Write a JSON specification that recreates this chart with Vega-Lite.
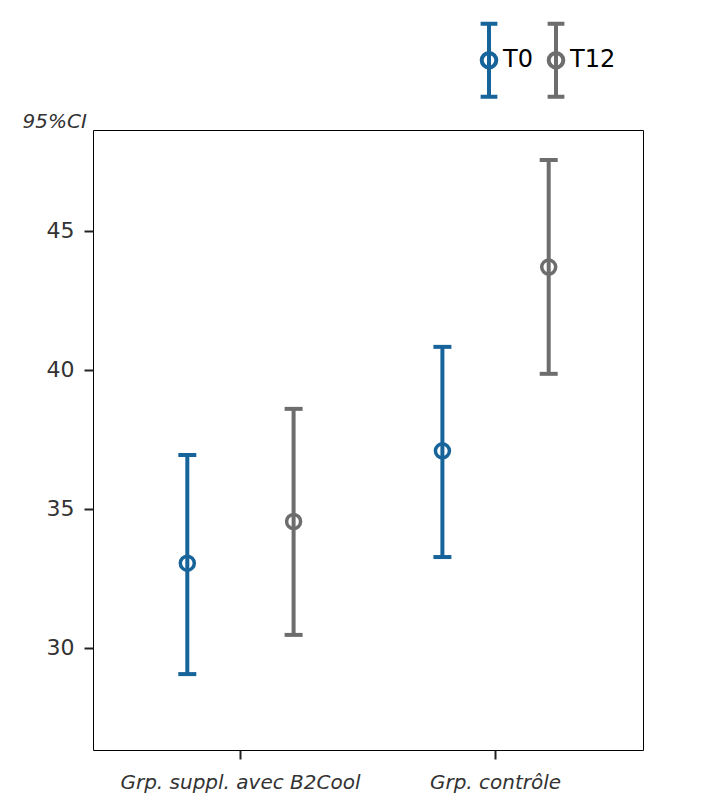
{
  "$schema": "https://vega.github.io/schema/vega-lite/v6.json",
  "width": 550,
  "height": 620,
  "autosize": {"type": "none"},
  "padding": {"left": 93, "top": 130, "right": 78, "bottom": 58},
  "background": "white",
  "config": {
    "view": {"stroke": "black", "strokeWidth": 1},
    "font": "DejaVu Sans"
  },
  "data": {
    "values": [
      {"group": "Grp. suppl. avec B2Cool", "time": "T0", "mean": 33.05, "lo": 29.06, "hi": 36.94},
      {"group": "Grp. suppl. avec B2Cool", "time": "T12", "mean": 34.55, "lo": 30.47, "hi": 38.6},
      {"group": "Grp. contrôle", "time": "T0", "mean": 37.09, "lo": 33.27, "hi": 40.83},
      {"group": "Grp. contrôle", "time": "T12", "mean": 43.7, "lo": 39.86, "hi": 47.55}
    ]
  },
  "encoding": {
    "x": {
      "field": "group",
      "type": "nominal",
      "sort": ["Grp. suppl. avec B2Cool", "Grp. contrôle"],
      "scale": {"paddingInner": 0, "paddingOuter": 0.078},
      "axis": {
        "title": null,
        "labelAngle": 0,
        "labelFont": "DejaVu Sans",
        "labelFontSize": 20,
        "labelFontStyle": "italic",
        "labelColor": "#333333",
        "labelPadding": 13,
        "labelLimit": 500,
        "tickSize": 9,
        "tickWidth": 2,
        "tickColor": "#222222",
        "domain": false
      }
    },
    "xOffset": {
      "field": "time",
      "type": "nominal",
      "sort": ["T0", "T12"],
      "scale": {"paddingInner": 0, "paddingOuter": 0.2}
    },
    "color": {
      "field": "time",
      "type": "nominal",
      "sort": ["T0", "T12"],
      "scale": {"domain": ["T0", "T12"], "range": ["#17649b", "#6d6d6d"]},
      "legend": {
        "title": null,
        "orient": "none",
        "legendX": 384,
        "legendY": -82,
        "direction": "horizontal",
        "symbolType": "M0,-4L0,4M-0.92,-4L0.92,-4M-0.92,4L0.92,4M0.8,0A0.8,0.8,0,1,1,-0.8,0A0.8,0.8,0,1,1,0.8,0",
        "symbolSize": 333,
        "symbolStrokeWidth": 4,
        "symbolOpacity": 1,
        "symbolFillColor": "transparent",
        "labelFont": "DejaVu Sans",
        "labelFontSize": 24,
        "labelColor": "#000000",
        "labelOffset": 2,
        "columnPadding": 6
      }
    }
  },
  "layer": [
    {
      "mark": {"type": "point", "filled": false, "size": 196, "strokeWidth": 3.5, "opacity": 1},
      "encoding": {
        "y": {
          "field": "mean",
          "type": "quantitative",
          "scale": {"domain": [26.33, 48.63], "nice": false, "zero": false},
          "axis": {
            "title": "95%CI",
            "titleAngle": 0,
            "titleAlign": "left",
            "titleBaseline": "alphabetic",
            "titleX": -71,
            "titleY": -3,
            "titleFont": "DejaVu Sans",
            "titleFontStyle": "italic",
            "titleFontWeight": "normal",
            "titleFontSize": 20,
            "titleColor": "#333333",
            "values": [30, 35, 40, 45],
            "labelFont": "DejaVu Sans",
            "labelFontSize": 22,
            "labelColor": "#333333",
            "labelPadding": 10,
            "tickSize": 9,
            "tickWidth": 2,
            "tickColor": "#222222",
            "grid": false,
            "domain": false
          }
        }
      }
    },
    {
      "mark": {"type": "rule", "strokeWidth": 4, "opacity": 1},
      "encoding": {
        "y": {"field": "lo", "type": "quantitative"},
        "y2": {"field": "hi"}
      }
    },
    {
      "mark": {"type": "tick", "filled": false, "opacity": 1, "thickness": 1, "size": 15, "strokeWidth": 3, "orient": "horizontal"},
      "encoding": {
        "y": {"field": "lo", "type": "quantitative"}
      }
    },
    {
      "mark": {"type": "tick", "filled": false, "opacity": 1, "thickness": 1, "size": 15, "strokeWidth": 3, "orient": "horizontal"},
      "encoding": {
        "y": {"field": "hi", "type": "quantitative"}
      }
    }
  ]
}
